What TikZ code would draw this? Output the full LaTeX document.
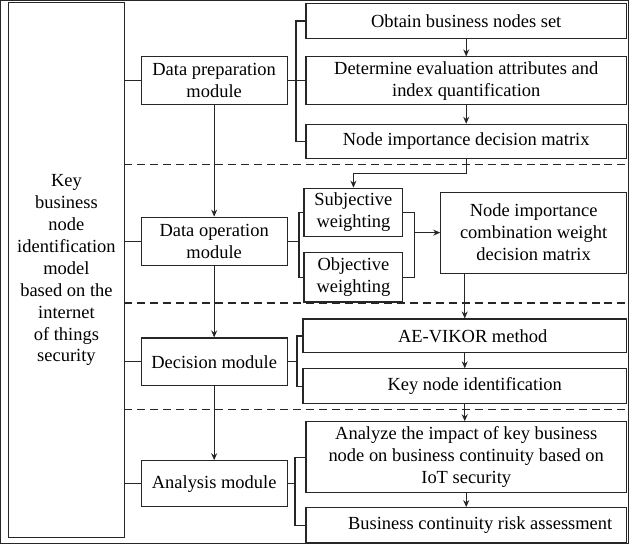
\documentclass[tikz,border=0pt]{standalone}
\usepackage{fontspec}
\setmainfont{Liberation Serif}
\usetikzlibrary{arrows.meta}
\begin{document}
\begin{tikzpicture}[x=1pt,y=-1pt,
  line width=1.1pt,
  every path/.style={draw=black!85},
  box/.style={draw=black!85, line width=1.1pt, inner sep=0pt, align=center, anchor=center,
    font=\fontsize{18.5}{22}\selectfont},
  sep/.style={dash pattern=on 8pt off 5pt},
  arr/.style={-{Stealth[length=7pt,width=6pt]}},
]
\useasboundingbox (0,0) rectangle (629,544);
% left
\node[box, minimum width=116pt, minimum height=536pt] (key) at (66,270)
  {Key\\business\\node\\identification\\model\\based on the\\internet\\of things\\security};
% modules
\node[box, minimum width=146pt, minimum height=48pt] (prep) at (214,80) {Data preparation\\module};
\node[box, minimum width=146pt, minimum height=48pt] (oper) at (214,241) {Data operation\\module};
\node[box, minimum width=146pt, minimum height=48pt] (dec) at (214,362) {Decision module};
\node[box, minimum width=146pt, minimum height=46pt] (ana) at (214,484) {Analysis module};
% right boxes
\node[box, minimum width=321pt, minimum height=35pt] (obtain) at (466.5,20.5) {Obtain business nodes set};
\node[box, minimum width=321pt, minimum height=48pt] (determine) at (466.5,80.5) {Determine evaluation attributes and\\index quantification};
\node[box, minimum width=321pt, minimum height=34pt] (nidm) at (466.5,141) {Node importance decision matrix};
\node[box, minimum width=99pt, minimum height=48pt] (subj) at (353.5,212) {Subjective\\weighting};
\node[box, minimum width=99pt, minimum height=50pt] (obj) at (353.5,277) {Objective\\weighting};
\node[box, minimum width=186pt, minimum height=81pt] (comb) at (534,232.5) {Node importance\\combination weight\\decision matrix};
\node[box, minimum width=324pt, minimum height=34pt] (ae) at (465,336) {\hspace*{16pt}AE-VIKOR method};
\node[box, minimum width=324pt, minimum height=35pt] (keyid) at (465,386.5) {\hspace*{20pt}Key node identification};
\node[box, minimum width=321pt, minimum height=71pt] (analyze) at (466.5,457.5) {Analyze the impact of key business\\node on business continuity based on\\IoT security};
\node[box, minimum width=321pt, minimum height=35pt] (bcra) at (466.5,525.5) {\hspace*{28pt}Business continuity risk assessment};
% dashed separators
\coordinate (d1a) at (124,164); \coordinate (d1b) at (627,164);
\coordinate (d2a) at (124,303); \coordinate (d2b) at (627,303);
\coordinate (d3a) at (124,410); \coordinate (d3b) at (627,410);
\draw[sep] (d1a) -- (d1b);
\draw[sep] (d2a) -- (d2b);
\draw[sep] (d3a) -- (d3b);
% key to modules
\draw (key.east |- prep.west) -- (prep.west);
\draw (key.east |- oper.west) -- (oper.west);
\draw (key.east |- dec.west) -- (dec.west);
\draw (key.east |- ana.west) -- (ana.west);
% module arrows
\draw[arr] (prep.south) -- (oper.north);
\draw[arr] (oper.south) -- (dec.north);
\draw[arr] (dec.south) -- (ana.north);
% brackets
\coordinate (b1) at (296,80);
\draw (prep.east) -- (b1);
\draw (obtain.west) -| (b1) |- (nidm.west);
\draw (b1) -- (determine.west |- b1);
\coordinate (b2) at (299,241);
\draw (oper.east) -- (b2);
\draw (subj.west) -| (b2) |- (obj.west);
\coordinate (rb) at (415,232.5);
\draw (subj.east) -| (rb) |- (obj.east);
\draw[arr] (rb) -- (comb.west);
\coordinate (b3) at (297,362);
\draw (dec.east) -- (b3);
\draw (ae.west) -| (b3) |- (keyid.west);
\coordinate (b4) at (295,484);
\draw (ana.east) -- (b4);
\draw (analyze.west) -| (b4) |- (bcra.west);
% right arrows
\draw[arr] (obtain.south) -- (determine.north);
\draw[arr] (determine.south) -- (nidm.north);
\coordinate (jn) at (466.5,173);
\draw[arr] (nidm.south) -- (jn) -| (subj.north);
\draw[arr] (comb.south -| ae.north) -- (ae.north);
\draw[arr] (ae.south) -- (keyid.north);
\draw[arr] (keyid.south) -- (keyid.south |- analyze.north);
\draw[arr] (analyze.south) -- (bcra.north);
\end{tikzpicture}
\end{document}
